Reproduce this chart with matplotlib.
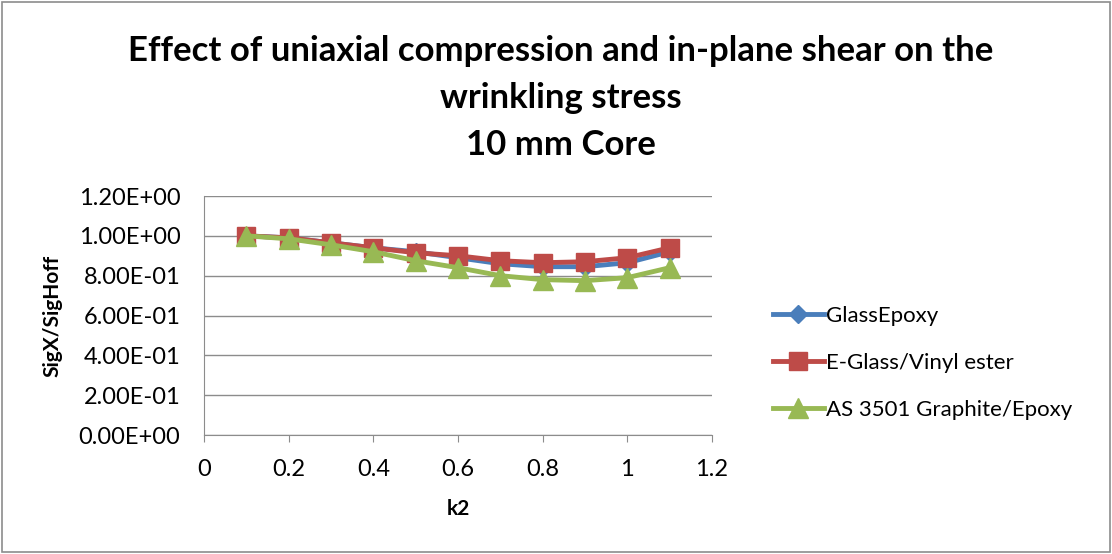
import matplotlib
matplotlib.use("Agg")
import matplotlib.pyplot as plt
from matplotlib.patches import Rectangle
from matplotlib.ticker import FuncFormatter

k2 = [0.1, 0.2, 0.3, 0.4, 0.5, 0.6, 0.7, 0.8, 0.9, 1.0, 1.1]
glass_epoxy = [1.0, 0.99, 0.965, 0.94, 0.92, 0.89, 0.86, 0.845, 0.845, 0.865, 0.92]
eglass_vinyl = [1.0, 0.99, 0.965, 0.94, 0.915, 0.90, 0.875, 0.865, 0.87, 0.89, 0.94]
as3501 = [1.0, 0.985, 0.955, 0.92, 0.875, 0.84, 0.80, 0.78, 0.775, 0.79, 0.84]
labels = ["GlassEpoxy", "E-Glass/Vinyl ester", "AS 3501 Graphite/Epoxy"]

plt.rcParams["font.family"] = ["Lato", "DejaVu Sans"]

fig = plt.figure(figsize=(11.12, 5.54), dpi=100)
fig.patches.append(Rectangle((0.002, 0.003), 0.996, 0.994, transform=fig.transFigure,
                             fill=False, edgecolor="#8c8c8c", lw=1.2))
ax = fig.add_axes([0.1835, 0.2148, 0.4568, 0.4314])

ax.plot(k2, glass_epoxy, color="#4a7ebb", lw=3.5, marker="D", ms=9, label=labels[0], zorder=3)
ax.plot(k2, eglass_vinyl, color="#be4b48", lw=3.5, marker="s", ms=13, label=labels[1], zorder=4)
ax.plot(k2, as3501, color="#98b954", lw=3.5, marker="^", ms=14, label=labels[2], zorder=5)

ax.set_xlim(0, 1.2)
ax.set_ylim(0, 1.2)
ax.set_xticks([0, 0.2, 0.4, 0.6, 0.8, 1.0, 1.2])
ax.set_xticklabels(["0", "0.2", "0.4", "0.6", "0.8", "1", "1.2"])
ax.set_yticks([0, 0.2, 0.4, 0.6, 0.8, 1.0, 1.2])
ax.yaxis.set_major_formatter(FuncFormatter(lambda v, p: f"{v:.2E}"))
ax.grid(axis="y", color="#8c8c8c", lw=1)
ax.set_axisbelow(True)
for s in ["top", "right"]:
    ax.spines[s].set_visible(False)
for s in ["left", "bottom"]:
    ax.spines[s].set_color("#8c8c8c")
ax.tick_params(axis="both", labelsize=17, color="#8c8c8c", length=5)
ax.tick_params(axis="x", pad=12)
ax.tick_params(axis="y", length=0, pad=17)

ax.set_xlabel("k2", fontsize=15, fontweight="bold", labelpad=14)
ax.set_ylabel("SigX/SigHoff", fontsize=15, fontweight="bold", labelpad=12)

title_kw = dict(ha="center", va="center", fontsize=25, fontweight="bold")
fig.text(0.504, 0.908, "Effect of uniaxial compression and in-plane shear on the", **title_kw)
fig.text(0.504, 0.823, "wrinkling stress", **title_kw)
fig.text(0.504, 0.738, "10 mm Core", **title_kw)

fig.legend(loc="center left", bbox_to_anchor=(0.677, 0.345), frameon=False, fontsize=16,
           handlelength=2.3, labelspacing=1.2, handletextpad=0.1)

fig.savefig("out.png", dpi=100)
